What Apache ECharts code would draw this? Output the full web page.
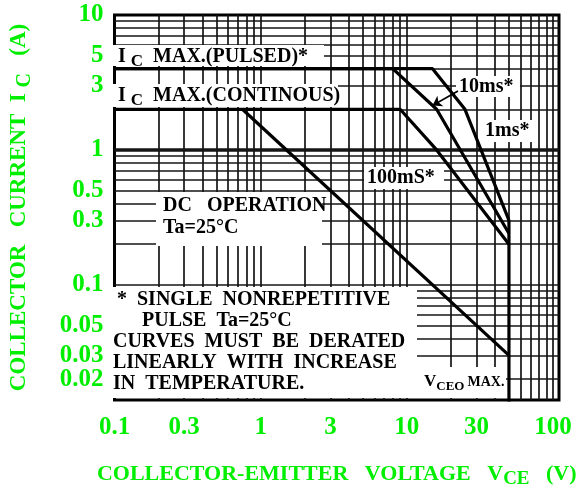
<!DOCTYPE html>
<html><head><meta charset="utf-8">
<script src="https://cdn.jsdelivr.net/npm/echarts@6/dist/echarts.min.js"></script>
<style>html,body{margin:0;padding:0;background:#fff}#c{width:579px;height:500px}</style>
</head><body><div id="c"></div>
<script>
// ---- axis ticks ----
const xTickValues = [0.1, 0.3, 1, 3, 10, 30, 100];
const xTickLabels = ['0.1', '0.3', '1', '3', '10', '30', '100'];
const yTickValues = [0.02, 0.03, 0.05, 0.1, 0.3, 0.5, 1, 3, 5, 10];
const yTickLabels = ['0.02', '0.03', '0.05', '0.1', '0.3', '0.5', '1', '3', '5', '10'];
// ---- grid lines ----
const xGridValues = [0.2,0.3,0.4,0.5,0.6,0.7,0.8,0.9,1,2,3,4,5,6,7,8,9,10,20,30,40,50,60,70,80,90,100];
const yGridValues = [0.02,0.03,0.04,0.05,0.06,0.07,0.08,0.09,0.1,0.2,0.3,0.4,0.5,0.6,0.7,0.8,0.9,1,2,3,4,5,6,7,8,9];
// ---- SOA curves (VCE in V, IC in A) ----
const pulse1msV = [0.1, 15, 25, 50];
const pulse1msI = [4, 4, 2, 0.3];
const pulse10msV = [0.1, 8, 16, 50];
const pulse10msI = [4, 4, 2, 0.24];
const pulse100msV = [0.1, 9, 16, 50];
const pulse100msI = [2, 2, 1, 0.2];
const dcV = [0.75, 50];
const dcI = [2, 0.03];
const vceoV = [50, 50];
const vceoI = [0.3, 0.01];

const X_MIN = 0.1, X_MAX = 110, Y_MIN = 0.014, Y_MAX = 10;
const G = '#00ee00';
const F = '"Liberation Serif","Times New Roman",serif';

function zip(a, b) { return a.map((v, i) => [v, b[i]]); }
function fmt(vals, labels) {
  return function (v) {
    for (let i = 0; i < vals.length; i++) {
      if (Math.abs(Math.log10(v) - Math.log10(vals[i])) < 1e-6) return labels[i];
    }
    return '';
  };
}
function curve(name, v, i, extra) {
  return Object.assign({
    name: name, type: 'line', data: zip(v, i), symbol: 'none', z: 5, yAxisIndex: 0,
    lineStyle: { color: '#000', width: 3.2 }, silent: true, clip: true
  }, extra || {});
}

const gridLineData = xGridValues.map(v => ({ coords: [[v, Y_MIN], [v, Y_MAX]] }))
  .concat(yGridValues.map(v => ({
    coords: [[X_MIN, v], [X_MAX, v]],
    lineStyle: v === 1 ? { width: 3.5 } : undefined
  })));

const rn = { fontFamily: F, fontWeight: 'bold', fontSize: 20, fill: '#000' };
const rs = { fontFamily: F, fontWeight: 'bold', fontSize: 17, fill: '#000', padding: [10, 0, 0, 0] };
function txt(x, y, text, rich) {
  return { type: 'text', x: x, y: y, z: 3, silent: true,
    style: { text: text, rich: rich || { n: rn, s: rs }, align: 'left', verticalAlign: 'middle' } };
}
function box(x, y, w, h) {
  return { type: 'rect', z: 3, silent: true, shape: { x: x, y: y, width: w, height: h }, style: { fill: '#fff' } };
}
const yLabelStyle = { formatter: fmt(yTickValues, yTickLabels), color: G, fontFamily: F, fontWeight: 'bold', fontSize: 25, margin: 11,
  showMinLabel: true, showMaxLabel: true, hideOverlap: false };
// the 0.03 label sits on a twin axis so it is not hidden as overlapping 0.02
const yLabelsMain = yTickValues.filter((v, i) => i !== 1);
const yLabelsTwin = [yTickValues[1]];

const chart = echarts.init(document.getElementById('c'), null, { renderer: 'canvas' });
chart.setOption({
  animation: false,
  backgroundColor: '#fff',
  grid: { left: 110, right: 20, top: 15, bottom: 100, show: true, borderColor: '#000', borderWidth: 3, backgroundColor: '#fff' },
  xAxis: {
    type: 'log', logBase: 10, min: X_MIN, max: X_MAX,
    axisLine: { show: false }, axisTick: { show: false }, splitLine: { show: false },
    axisLabel: { customValues: xTickValues, formatter: fmt(xTickValues, xTickLabels), color: G, fontFamily: F, fontWeight: 'bold', fontSize: 25, margin: 15,
      showMinLabel: true, showMaxLabel: true, hideOverlap: false },
    name: '{a|COLLECTOR-EMITTER   VOLTAGE   V}{s|CE}{a|   (V)}',
    nameLocation: 'middle', nameGap: 60,
    nameTextStyle: {
      rich: {
        a: { color: G, fontFamily: F, fontWeight: 'bold', fontSize: 22 },
        s: { color: G, fontFamily: F, fontWeight: 'bold', fontSize: 19, padding: [10, 0, 0, 0] }
      }
    }
  },
  yAxis: [{
    type: 'log', logBase: 10, min: Y_MIN, max: Y_MAX, position: 'left',
    axisLine: { show: false }, axisTick: { show: false }, splitLine: { show: false },
    axisLabel: Object.assign({ customValues: yLabelsMain }, yLabelStyle),
    name: '{a|COLLECTOR   CURRENT  I }{s|C}{a|   (A)}',
    nameLocation: 'middle', nameGap: 80, nameRotate: 90,
    nameTextStyle: {
      rich: {
        a: { color: G, fontFamily: F, fontWeight: 'bold', fontSize: 23 },
        s: { color: G, fontFamily: F, fontWeight: 'bold', fontSize: 20, padding: [10, 0, 0, 0] }
      }
    }
  }, {
    type: 'log', logBase: 10, min: Y_MIN, max: Y_MAX, position: 'left', offset: 0,
    axisLine: { show: false }, axisTick: { show: false }, splitLine: { show: false },
    axisLabel: Object.assign({ customValues: yLabelsTwin }, yLabelStyle, { showMinLabel: null, showMaxLabel: null })
  }],
  series: [
    { type: 'lines', coordinateSystem: 'cartesian2d', z: 1, silent: true, polyline: false,
      lineStyle: { color: '#151515', width: 1.7, opacity: 1, curveness: 0 }, data: gridLineData },
    curve('DC', dcV, dcI),
    curve('100ms', pulse100msV, pulse100msI),
    curve('10ms', pulse10msV, pulse10msI, {
      markLine: { silent: true, symbol: ['none', 'arrow'], symbolSize: 9, label: { show: false },
        lineStyle: { color: '#000', width: 1.6, type: 'solid' },
        data: [[{ coord: [22.4, 2.73] }, { coord: [15, 2.133] }]] }
    }),
    curve('1ms', pulse1msV, pulse1msI),
    curve('VCEO', vceoV, vceoI)
  ],
  graphic: [
    box(112, 45, 212, 21), txt(118, 57, '{n|I }{s|C}{n|  MAX.(PULSED)*}'),
    box(112, 84, 226, 23), txt(118, 96, '{n|I }{s|C}{n|  MAX.(CONTINOUS)}'),
    box(456, 76, 64, 21), txt(459, 87, '{n|10ms*}'),
    box(482, 120, 52, 22), txt(485, 131, '{n|1ms*}'),
    box(364, 167, 80, 22), txt(367, 178, '{n|100mS*}'),
    box(156, 192, 166, 54), txt(163, 206, '{n|DC   OPERATION}'), txt(163, 228, '{n|Ta=25°C}'),
    box(112, 287, 305, 111),
    txt(117, 300, '{n|*  SINGLE  NONREPETITIVE}'),
    txt(142, 321, '{n|PULSE  Ta=25°C}'),
    txt(113, 342, '{n|CURVES  MUST  BE  DERATED}'),
    txt(113, 363, '{n|LINEARLY  WITH  INCREASE}'),
    txt(113, 384, '{n|IN  TEMPERATURE.}'),
    box(415, 367, 91, 31),
    txt(424, 382, '{v|V}{c|CEO}{m|MAX.}', {
      v: { fontFamily: F, fontWeight: 'bold', fontSize: 17, fill: '#000' },
      c: { fontFamily: F, fontWeight: 'bold', fontSize: 13, fill: '#000', padding: [10, 3, 0, 0] },
      m: { fontFamily: F, fontWeight: 'bold', fontSize: 14, fill: '#000' }
    })
  ]
});
</script></body></html>
